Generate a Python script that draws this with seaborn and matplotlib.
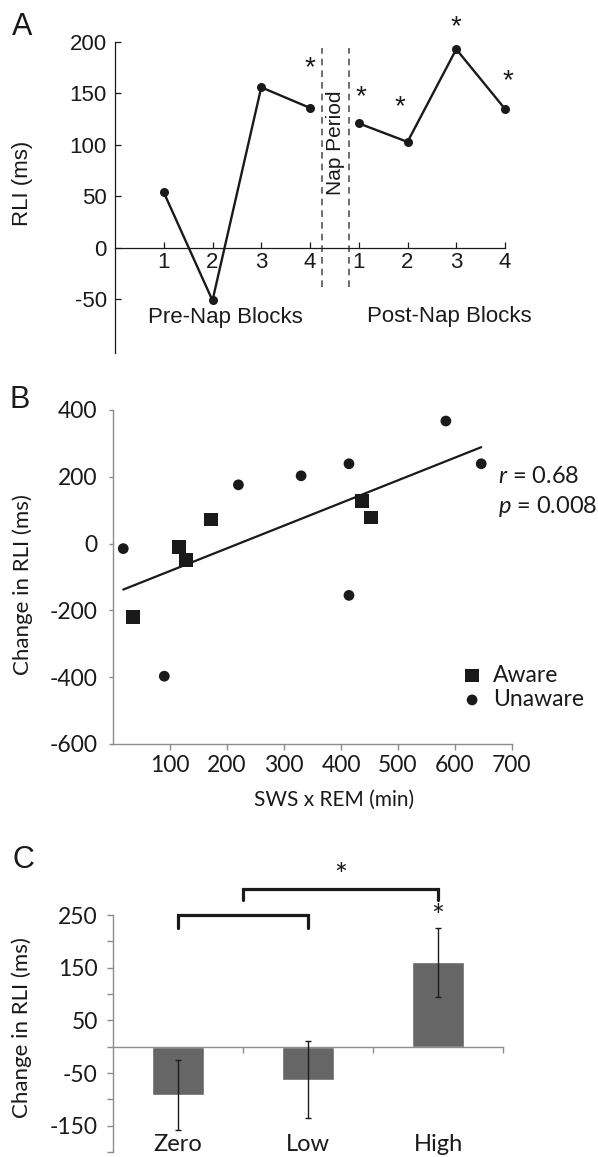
import numpy as np
import pandas as pd
import matplotlib
matplotlib.use("Agg")
import matplotlib.pyplot as plt
import seaborn as sns

# ---------------- data ----------------
# Panel A
pre_blocks = [1, 2, 3, 4]
post_blocks = [1, 2, 3, 4]
rli_pre = [54, -51, 156, 136]
rli_post = [121, 103, 193, 135]
star_y_pre = [None, None, None, 175]
star_y_post = [146, 137, 214, 162]

# Panel B
aware_x = [35, 116, 128, 172, 437, 452]
aware_y = [-221, -9, -50, 72, 128, 78]
unaware_x = [18, 90, 220, 330, 414, 414, 584, 646]
unaware_y = [-15, -397, 176, 203, 239, -155, 367, 239]
stat_text = ["$r$ = 0.68", "$p$ = 0.008"]

# Panel C
groups = ["Zero", "Low", "High"]
change_means = [-92, -63, 160]
change_err = [67, 73, 65]

# ---------------- style ----------------
sns.set_theme(style="ticks")
plt.rcParams["font.family"] = ["Lato", "DejaVu Sans"]
plt.rcParams["mathtext.fontset"] = "custom"
plt.rcParams["mathtext.it"] = "Lato:italic"
plt.rcParams["mathtext.rm"] = "Lato"
plt.rcParams["axes.unicode_minus"] = False
HELV = ["Liberation Sans", "DejaVu Sans"]
INK = "#1a1a1a"
GRAY = "#8c8c8c"

W, H = 598, 1157
fig = plt.figure(figsize=(W / 100, H / 100), dpi=100)


def px_axes(left, right, top, bottom):
    return fig.add_axes([left / W, 1 - bottom / H, (right - left) / W, (bottom - top) / H])


# ================= Panel A =================
axA = px_axes(115, 505, 42, 353)
dfA = pd.DataFrame({
    "pos": pre_blocks + [b + 4 for b in post_blocks],
    "rli": rli_pre + rli_post,
    "phase": ["pre"] * 4 + ["post"] * 4,
})
sns.lineplot(data=dfA, x="pos", y="rli", units="phase", estimator=None, sort=False,
             color=INK, lw=1.7, marker="o", markersize=6.5, markeredgewidth=0, ax=axA,
             clip_on=False, zorder=3)
axA.set_xlim(0, 8)
axA.set_ylim(-102, 200)
for s in ["top", "right"]:
    axA.spines[s].set_visible(False)
axA.spines["bottom"].set_position(("data", 0))
for s in ["left", "bottom"]:
    axA.spines[s].set_color(INK)
    axA.spines[s].set_linewidth(0.9)
axA.set_xticks(list(dfA["pos"]), [str(b) for b in pre_blocks + post_blocks])
axA.set_yticks([-50, 0, 50, 100, 150, 200])
axA.tick_params(axis="x", direction="in", length=4, width=0.9, pad=3, labelsize=16, colors=INK)
axA.tick_params(axis="y", direction="in", length=4, width=0.9, pad=6, labelsize=16, colors=INK)
for lab in axA.get_xticklabels() + axA.get_yticklabels():
    lab.set_fontfamily(HELV)
axA.set_xlabel("")
axA.set_ylabel("RLI (ms)", fontsize=16, family=HELV, color=INK, va="center")
axA.yaxis.set_label_coords(-0.238, 0.547)
axA.vlines([4.25, 4.8], -38, 194, colors="#555555", linestyles=(0, (4, 3)), lw=1.2, clip_on=False)
axA.text(4.52, 102, "Nap Period", rotation=90, ha="center", va="center", fontsize=15,
         family=HELV, color=INK)
axA.text(2.26, -68, "Pre-Nap Blocks", ha="center", va="center", fontsize=16, family=HELV, color=INK)
axA.text(6.85, -67, "Post-Nap Blocks", ha="center", va="center", fontsize=16, family=HELV, color=INK)
star_dx = [0.0, 0.05, -0.15, 0.0, 0.05]
for i, (b, sy) in enumerate(zip(pre_blocks, star_y_pre)):
    if sy is not None:
        axA.text(b, sy, "*", ha="center", va="center", fontsize=20, family=HELV, color=INK, clip_on=False)
for i, (b, sy) in enumerate(zip(post_blocks, star_y_post)):
    if sy is not None:
        axA.text(b + 4 + star_dx[i + 1], sy, "*", ha="center", va="center", fontsize=20,
                 family=HELV, color=INK, clip_on=False)
fig.text(12 / W, 1 - 35 / H, "A", fontsize=22, family=HELV, color=INK, va="baseline")

# ================= Panel B =================
axB = px_axes(113, 512, 410, 744)
dfB = pd.DataFrame({
    "sws_rem": aware_x + unaware_x,
    "change": aware_y + unaware_y,
    "group": ["Aware"] * len(aware_x) + ["Unaware"] * len(unaware_x),
})
sns.regplot(data=dfB, x="sws_rem", y="change", scatter=False, ci=None, color=INK,
            line_kws={"lw": 1.6}, ax=axB)
sns.scatterplot(data=dfB[dfB.group == "Aware"], x="sws_rem", y="change", marker="s", s=100,
                color=INK, edgecolor="none", label="Aware", ax=axB, zorder=3)
sns.scatterplot(data=dfB[dfB.group == "Unaware"], x="sws_rem", y="change", marker="o", s=60,
                color=INK, edgecolor="none", label="Unaware", ax=axB, zorder=3)
axB.set_xlim(0, 700)
axB.set_ylim(-600, 400)
axB.set_xticks([100, 200, 300, 400, 500, 600, 700])
axB.set_yticks([-600, -400, -200, 0, 200, 400])
for s in ["top", "right"]:
    axB.spines[s].set_visible(False)
for s in ["left", "bottom"]:
    axB.spines[s].set_color(GRAY)
    axB.spines[s].set_linewidth(1.0)
axB.tick_params(axis="x", direction="out", length=4, width=1, color=GRAY, pad=4, labelsize=16.5, labelcolor=INK)
axB.tick_params(axis="y", direction="out", length=3, width=1, color=GRAY, pad=8, labelsize=16.5, labelcolor=INK)
axB.set_xlabel("SWS x REM (min)", fontsize=15, color=INK, va="center")
axB.xaxis.set_label_coords(0.554, -0.168)
axB.set_ylabel("Change in RLI (ms)", fontsize=16, color=INK, va="center")
axB.yaxis.set_label_coords(-0.2256, 0.4775)
axB.text(675, 200, stat_text[0], ha="left", va="center", fontsize=17, color=INK)
axB.text(675, 110, stat_text[1], ha="left", va="center", fontsize=17, color=INK)
axB.legend(loc="upper left", bbox_to_anchor=(0.877, 0.238), frameon=False, borderpad=0,
           borderaxespad=0, handlelength=0.8, handletextpad=0.5, labelspacing=0.15,
           fontsize=16.5, labelcolor=INK)
fig.text(10 / W, 1 - 408 / H, "B", fontsize=22, family=HELV, color=INK, va="baseline")

# ================= Panel C =================
axC = px_axes(113, 503, 915, 1152)
sns.barplot(x=groups, y=change_means, color="#666666", saturation=1, width=0.4,
            errorbar=None, ax=axC, zorder=2)
axC.errorbar(x=np.arange(len(groups)), y=change_means, yerr=change_err, fmt="none",
             ecolor=INK, elinewidth=1, capsize=2.5, capthick=1, zorder=3)
axC.set_xlim(-0.5, 2.5)
axC.set_ylim(-200, 250)
for s in ["top", "right"]:
    axC.spines[s].set_visible(False)
axC.spines["bottom"].set_position(("data", 0))
for s in ["left", "bottom"]:
    axC.spines[s].set_color(GRAY)
    axC.spines[s].set_linewidth(1.0)
axC.set_xticks(np.arange(len(groups)) + 0.5, [""] * len(groups))
axC.tick_params(axis="x", direction="out", length=4, width=1, color=GRAY)
axC.set_yticks([-150, -50, 50, 150, 250])
axC.set_yticks([-200, -100, 0, 100, 200], minor=True)
axC.tick_params(axis="y", which="both", direction="out", length=4, width=1, color=GRAY,
                pad=7, labelsize=16.5, labelcolor=INK)
axC.set_xlabel("")
axC.set_ylabel("Change in RLI (ms)", fontsize=16, color=INK, va="center")
axC.yaxis.set_label_coords(-0.233, 0.523)
sec = axC.secondary_xaxis("bottom")
sec.set_xticks(np.arange(len(groups)), groups)
sec.tick_params(length=0, pad=-13, labelsize=17, labelcolor=INK)
sec.spines["bottom"].set_visible(False)
# significance brackets
br_kw = dict(color=INK, lw=2.3, clip_on=False, solid_joinstyle="miter")
axC.plot([0, 0, 1, 1], [225, 250, 250, 225], **br_kw)
axC.plot([0.5, 0.5, 2, 2], [279, 300, 300, 279], **br_kw)
axC.text(1.25, 325, "*", ha="center", va="center", fontsize=22, color=INK, clip_on=False)
axC.text(2, 246, "*", ha="center", va="center", fontsize=22, color=INK, clip_on=False)
fig.text(12 / W, 1 - 868 / H, "C", fontsize=22, family=HELV, color=INK, va="baseline")

fig.savefig("out.png", dpi=100)
